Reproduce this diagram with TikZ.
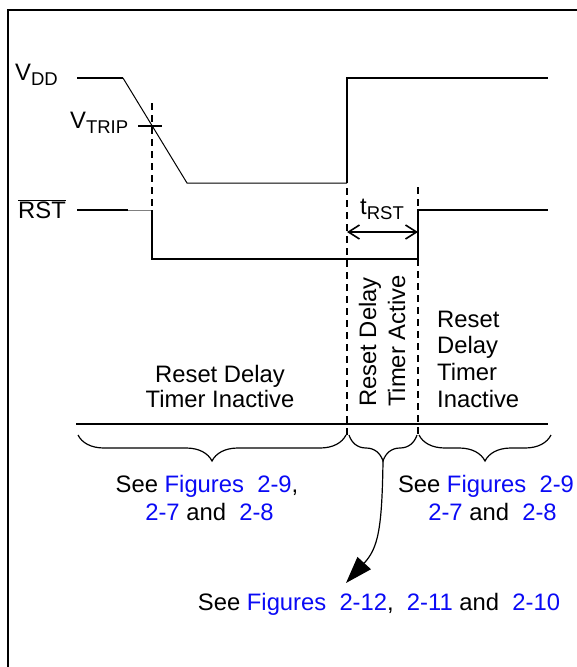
\documentclass[tikz,border=0pt]{standalone}
\usepackage{fontspec}
\setmainfont{Liberation Sans}
\usetikzlibrary{arrows.meta,decorations.pathreplacing}
\definecolor{linkblue}{RGB}{10,10,245}
\newcommand\lsub[1]{\raisebox{-5pt}{\fontsize{18.5}{18.5}\selectfont #1}}
\newcommand\lnk[1]{\textcolor{linkblue}{#1}}
\begin{document}
\begin{tikzpicture}[x=1pt,y=-1pt,
  txt/.style={inner sep=0pt, font=\fontsize{23.8}{27}\selectfont},
  sig/.style={line width=2pt},
  thinsig/.style={line width=1pt},
  guide/.style={line width=1.6pt, dash pattern=on 7pt off 5pt},
  bracestyle/.style={line width=1.2pt, decorate, decoration={brace, amplitude=26pt}},
]
\useasboundingbox (0,0) rectangle (576,667);
% frame
\coordinate (fbl) at (8,668);
\coordinate (ftl) at (8,10);
\coordinate (ftr) at (577,10);
\draw[line width=2.2pt] (fbl) -- (ftl) -- (ftr);
% VDD signal
\coordinate (vd0) at (77,78);
\coordinate (vd1) at (123,78);
\coordinate (vd2) at (187,183);
\coordinate (vd3) at (347,183);
\coordinate (vd4) at (347,78);
\coordinate (vd5) at (548,78);
\draw[sig] (vd0) -- (vd1);
\draw[thinsig] (vd1) -- (vd2) -- (vd3);
\draw[sig] (vd3) -- (vd4) -- (vd5);
% VTRIP tick
\coordinate (tk0) at (138,126);
\coordinate (tk1) at (162,126);
\draw[sig] (tk0) -- (tk1);
% RST signal
\coordinate (r0) at (77,210);
\coordinate (r1) at (128,210);
\coordinate (r2) at (152,210);
\coordinate (r3) at (152,259);
\coordinate (r4) at (418,259);
\coordinate (r5) at (418,210);
\coordinate (r6) at (548,210);
\draw[sig] (r0) -- (r1);
\draw[thinsig, gray] (r1) -- (r2);
\draw[sig] (r2) -- (r3) -- (r4) -- (r5) -- (r6);
% dashed guides
\coordinate (g1a) at (152,103);
\coordinate (g1b) at (152,210);
\coordinate (g2a) at (347,188);
\coordinate (g2b) at (347,437);
\coordinate (g3a) at (418,187);
\coordinate (g3b) at (418,437);
\draw[guide] (g1a) -- (g1b);
\draw[guide] (g2a) -- (g2b);
\draw[guide] (g3a) -- (g3b);
% tRST arrow
\coordinate (ta) at (347,232);
\coordinate (tb) at (418,232);
\draw[line width=1.6pt, {Straight Barb[length=11pt,width=14pt]}-{Straight Barb[length=11pt,width=14pt]}] (ta) -- (tb);
% baseline
\coordinate (h0) at (76,424);
\coordinate (h1) at (548,424);
\draw[sig] (h0) -- (h1);
% braces (drawn right to left so they open downward)
\coordinate (b1r) at (346,435);
\coordinate (b1l) at (78,435);
\coordinate (b2r) at (417,435);
\coordinate (b2l) at (349,435);
\coordinate (b3r) at (551,435);
\coordinate (b3l) at (419,435);
\draw[bracestyle] (b1r) -- (b1l);
\draw[bracestyle] (b2r) -- (b2l);
\draw[bracestyle] (b3r) -- (b3l);
% curved arrow
\coordinate (b2tip) at (383,461);
\coordinate (arrtip) at (346,583);
\draw[line width=1.2pt, -{Triangle[length=27pt,width=18pt]}] (b2tip) .. controls (382,530) and (378,548) .. (arrtip);
% labels
\node[txt, anchor=base west] (vdd) at (15,80) {V\lsub{DD}};
\node[txt, anchor=base west] (vtrip) at (70,128) {V\lsub{TRIP}};
\node[txt, anchor=base west] (rst) at (18,218) {$\overline{\mbox{RST}}$};
\node[txt, anchor=base west] (trst) at (360,214) {t\lsub{RST}};
\node[txt, anchor=base] (l1) at (220,382) {Reset Delay};
\node[txt, anchor=base] (l2) at (220,407) {Timer Inactive};
\node[txt, anchor=base west, rotate=90] (a1) at (376,407) {Reset Delay};
\node[txt, anchor=base west, rotate=90] (a2) at (405,407) {Timer Active};
\node[txt, anchor=base west] (rr1) at (437,327) {Reset};
\node[txt, anchor=base west] (rr2) at (437,353) {Delay};
\node[txt, anchor=base west] (rr3) at (437,380) {Timer};
\node[txt, anchor=base west] (rr4) at (437,407) {Inactive};
\node[txt, anchor=base] (s1) at (207,492) {See \lnk{Figures}\ \ \lnk{2-9},};
\node[txt, anchor=base] (s2) at (209.5,520) {\lnk{2-7} and\ \ \lnk{2-8}};
\node[txt, anchor=base] (s3) at (486,492) {See \lnk{Figures}\ \ \lnk{2-9}};
\node[txt, anchor=base] (s4) at (492.5,520) {\lnk{2-7} and\ \ \lnk{2-8}};
\node[txt, anchor=base] (s5) at (379,610) {See \lnk{Figures}\ \ \lnk{2-12},\ \ \lnk{2-11} and\ \ \lnk{2-10}};
\end{tikzpicture}
\end{document}
